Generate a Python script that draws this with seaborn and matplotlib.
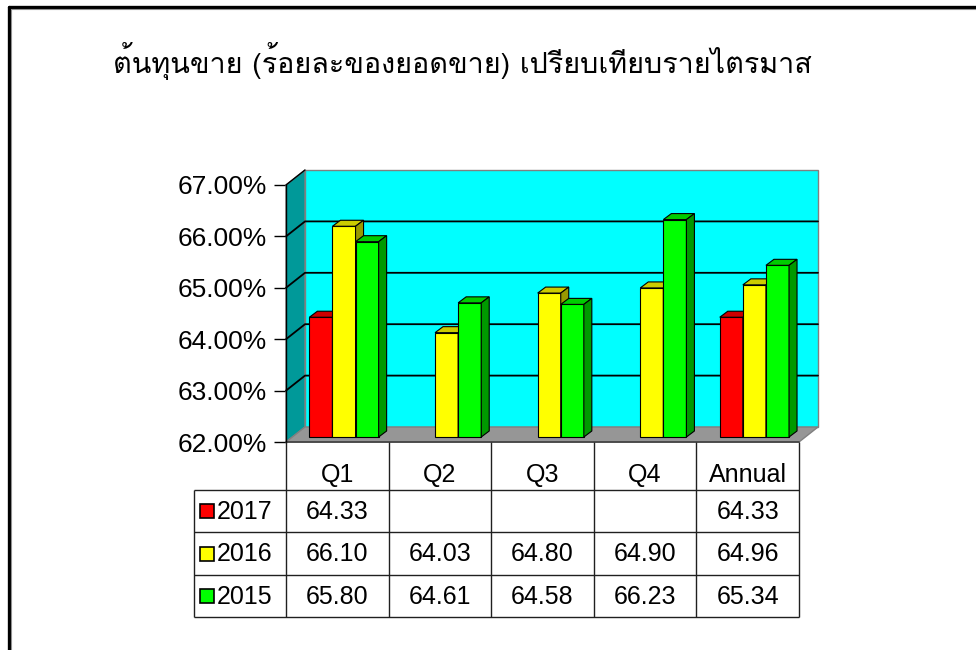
import numpy as np
import pandas as pd
import matplotlib
matplotlib.use("Agg")
import matplotlib.pyplot as plt
import seaborn as sns
from matplotlib.patches import Polygon, Rectangle
from matplotlib.lines import Line2D
from matplotlib import font_manager
from matplotlib.ft2font import FT2Font

# data
quarters = ["Q1", "Q2", "Q3", "Q4", "Annual"]
years = ["2017", "2016", "2015"]
cost_2017 = [64.33, np.nan, np.nan, np.nan, 64.33]
cost_2016 = [66.10, 64.03, 64.80, 64.90, 64.96]
cost_2015 = [65.80, 64.61, 64.58, 66.23, 65.34]
y_ticks = [62, 63, 64, 65, 66, 67]

title = "ต้นทุนขาย (ร้อยละของยอดขาย) เปรียบเทียบรายไตรมาส"
colors = {"2017": "#FF0000", "2016": "#FFFF00", "2015": "#00FF00"}

sns.set_style("white")
plt.rcParams["font.family"] = ["Liberation Sans", "DejaVu Sans"]
plt.rcParams["text.color"] = "black"
plt.rcParams["ytick.color"] = "black"
plt.rcParams["ytick.labelcolor"] = "black"


def find_thai_font():
    # first installed font that really has Thai glyphs
    for f in font_manager.fontManager.ttflist:
        try:
            if FT2Font(f.fname).get_char_index(ord("ต")):
                return f.name
        except Exception:
            pass
    return "DejaVu Sans"


thai_font = find_thai_font()

df = pd.DataFrame({
    "quarter": quarters * 3,
    "year": [y for y in years for _ in quarters],
    "value": cost_2017 + cost_2016 + cost_2015,
}).dropna()

W, H = 976, 650
fig = plt.figure(figsize=(W / 100, H / 100), dpi=100)

# front plane of the 3d box, in pixels
ax_l, ax_r, ax_b, ax_t = 286, 799, 442, 185
ax = fig.add_axes([ax_l / W, 1 - ax_b / H, (ax_r - ax_l) / W, (ax_b - ax_t) / H])

sns.barplot(data=df, x="quarter", y="value", hue="year", order=quarters,
            hue_order=years, palette=colors, saturation=1, width=0.675,
            errorbar=None, edgecolor="black", linewidth=0.8, legend=False, ax=ax)
bars = list(ax.patches)

ax.set_xlim(-0.5, 4.5)
ax.set_ylim(62, 67)
ax.set_yticks(y_ticks)
ax.yaxis.set_major_formatter(lambda v, pos: f"{v:.2f}%")
ax.tick_params(axis="y", direction="out", length=9, width=1, color="black",
               labelsize=19, pad=5, left=True)
ax.set_xticks([])
ax.set_xlabel("")
ax.set_ylabel("")
for s in ["top", "right", "bottom"]:
    ax.spines[s].set_visible(False)
ax.spines["left"].set_color("black")
ax.spines["left"].set_linewidth(1)
ax.spines["left"].set_zorder(3)
ax.patch.set_alpha(0)

# pixel -> data unit conversion
px_x = 5 / (ax_r - ax_l)
px_y = 5 / (ax_b - ax_t)
DX, DY = 19 * px_x, 15 * px_y       # depth of the walls
BX, BY = 6.7 * px_x, 5 * px_y       # bars sit a little back from the front
bx, by = 8 * px_x, 6 * px_y         # depth of each bar

x0, x1, y0, y1 = -0.5, 4.5, 62, 67

# back wall
ax.add_patch(Rectangle((x0 + DX, y0 + DY), x1 - x0, y1 - y0, facecolor="#00FFFF",
                       edgecolor="#808080", lw=1, zorder=0.5, clip_on=False))
# left wall
ax.add_patch(Polygon([(x0, y0), (x0 + DX, y0 + DY), (x0 + DX, y1 + DY), (x0, y1)],
                     closed=True, facecolor="#009999", edgecolor="#808080", lw=1,
                     zorder=0.6, clip_on=False))
for v in y_ticks[1:-1]:
    ax.plot([x0, x0 + DX, x1 + DX], [v, v + DY, v + DY], color="black", lw=1.3,
            zorder=0.7, clip_on=False)
ax.plot([x0, x0 + DX], [y1, y1 + DY], color="black", lw=1, zorder=0.7, clip_on=False)
# floor
ax.add_patch(Polygon([(x0, y0), (x1, y0), (x1 + DX, y0 + DY), (x0 + DX, y0 + DY)],
                     closed=True, facecolor="#969696", edgecolor="#808080", lw=1,
                     zorder=0.8, clip_on=False))
ax.plot([x0, x1], [y0, y0], color="#404040", lw=1.2, zorder=0.9, clip_on=False)


def shade(c, k):
    return tuple(np.array(c[:3]) * k)


# turn the flat seaborn bars into 3d boxes
for i, p in enumerate(sorted(bars, key=lambda b: b.get_x())):
    val = p.get_height()
    x = p.get_x() + BX
    w = p.get_width()
    base = y0 + BY
    top = val + BY
    p.set_x(x)
    p.set_y(base)
    p.set_height(val - y0)
    p.set_zorder(2 + i * 0.01)
    p.set_clip_on(False)
    fc = p.get_facecolor()
    ax.add_patch(Polygon([(x, top), (x + w, top), (x + w + bx, top + by), (x + bx, top + by)],
                         closed=True, facecolor=shade(fc, 0.8), edgecolor="black",
                         lw=0.8, zorder=2 + i * 0.01, clip_on=False))
    ax.add_patch(Polygon([(x + w, base), (x + w + bx, base + by), (x + w + bx, top + by),
                          (x + w, top)], closed=True, facecolor=shade(fc, 0.6),
                         edgecolor="black", lw=0.8, zorder=2 + i * 0.01, clip_on=False))

# data table under the chart
tb_l, tb_b = 194, 617
row_h = 42.3
head_h = (490 - ax_b) / row_h
tab = fig.add_axes([tb_l / W, 1 - tb_b / H, (ax_r - tb_l) / W, (tb_b - ax_b) / H])
tab_x0 = x0 - (ax_l - tb_l) * px_x
tab.set_xlim(tab_x0, x1)
tab.set_ylim(3, -head_h)
tab.axis("off")

line_kw = dict(color="#202020", lw=1, clip_on=False)
tab.hlines([0, 1, 2, 3], tab_x0, x1, **line_kw)
tab.vlines([tab_x0], 0, 3, **line_kw)
tab.vlines(np.arange(x0, x1 + 0.5), -head_h, 3, **line_kw)

for i, q in enumerate(quarters):
    tab.text(i, -0.36, q, ha="center", va="center", fontsize=18)

series = [cost_2017, cost_2016, cost_2015]
for r, (yr, vals) in enumerate(zip(years, series)):
    tab.add_patch(Rectangle((tab_x0 + 6 * px_x, r + 0.5 - 7 / row_h), 14 * px_x, 14 / row_h,
                            facecolor=colors[yr], edgecolor="black", lw=1.2, clip_on=False))
    tab.text(tab_x0 + 23 * px_x, r + 0.52, yr, ha="left", va="center", fontsize=18)
    for i, v in enumerate(vals):
        if not np.isnan(v):
            tab.text(i, r + 0.52, f"{v:.2f}", ha="center", va="center", fontsize=18)

# title
fig.text(113 / W, 1 - 61 / H, title, ha="left", va="center", fontsize=20.7,
         family=[thai_font, "DejaVu Sans"])

# outer frame (left and top edges visible)
fig.add_artist(Line2D([8.5 / W, 8.5 / W], [0, 1 - 6.5 / H], color="black", lw=2.4))
fig.add_artist(Line2D([8.5 / W, 1], [1 - 6.5 / H, 1 - 6.5 / H], color="black", lw=2.4))
fig.add_artist(Line2D([11 / W, 11 / W], [0, 1 - 9 / H], color="#909090", lw=0.8))
fig.add_artist(Line2D([11 / W, 1], [1 - 9 / H, 1 - 9 / H], color="#909090", lw=0.8))

fig.savefig("out.png", dpi=100)
